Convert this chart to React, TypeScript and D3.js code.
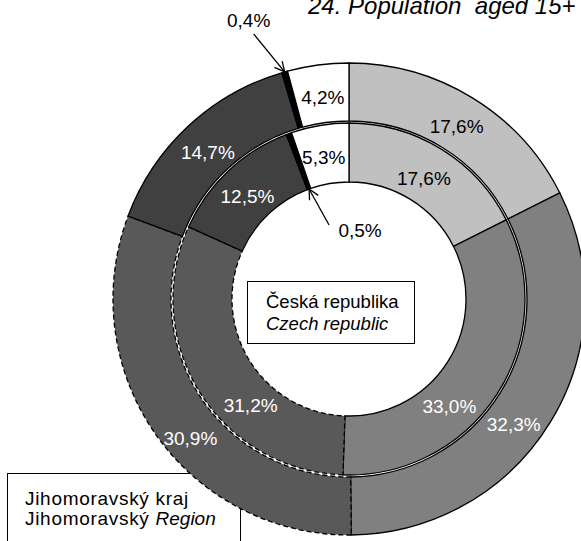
import React, { useEffect, useRef } from 'react';
import * as d3 from 'd3';

// education groups (clockwise from 12 o'clock)
const categories = ['basic', 'secondary', 'secondaryMaturita', 'tertiary', 'none', 'unknown'];
const czValues = [17.6, 33.0, 31.2, 12.5, 0.5, 5.3];   // inner ring - Česká republika
const jmkValues = [17.6, 32.3, 30.9, 14.7, 0.4, 4.2];  // outer ring - Jihomoravský kraj
const fills = ['#c0c0c0', '#808080', '#595959', '#404040', '#000000', '#ffffff'];
const labelColors = ['#000', '#fff', '#fff', '#fff', null, '#000'];
const dashed = [false, false, true, false, false, false];

// label nudges away from the slice centroid (Excel places them a bit differently)
const outerNudge: ([number, number] | null)[] = [[-1, 4], [-12, 18], [11, 21], [0, 5], null, [1, 4]];
const innerNudge: ([number, number] | null)[] = [[-2, 4], [-23, 28], [26, 29], [-1, 4], null, [-1, 3]];

const fmt = (v: number) => v.toFixed(1).replace('.', ',') + '%';

const App: React.FC = () => {
  const ref = useRef<SVGSVGElement>(null);

  useEffect(() => {
    if (!ref.current) return;
    const svg = d3.select(ref.current);
    svg.selectAll('*').remove();

    const width = 581;
    const height = 541;
    const cx = 349;
    const cy = 299;
    const r0 = 117, r1 = 176, r2 = 178, r3 = 236;
    const font = 'Arial, "Liberation Sans", sans-serif';
    const labelSize = '19px';

    const defs = svg.append('defs');
    defs.append('marker')
      .attr('id', 'arrow')
      .attr('viewBox', '0 0 12 12')
      .attr('refX', 11).attr('refY', 6)
      .attr('markerWidth', 12).attr('markerHeight', 12)
      .attr('markerUnits', 'userSpaceOnUse')
      .attr('orient', 'auto')
      .append('path')
      .attr('d', 'M1,1 L11,6 L1,11')
      .attr('fill', 'none')
      .attr('stroke', '#000')
      .attr('stroke-width', 1.3);

    // title (runs off the top and right edge as in the original)
    svg.append('text')
      .attr('x', 308).attr('y', 14)
      .style('font-family', font)
      .style('font-style', 'italic')
      .style('font-size', '24px')
      .style('white-space', 'pre')
      .text('24. Population  aged 15+');

    // legend box for the outer ring (no fill, ring shows through)
    const jb = svg.append('g');
    jb.append('rect')
      .attr('x', 7.5).attr('y', 473.5).attr('width', 233).attr('height', 90)
      .attr('fill', 'none').attr('stroke', '#000').attr('stroke-width', 1);

    const pie = d3.pie<number>().sort(null).value(d => d);
    const g = svg.append('g').attr('transform', `translate(${cx},${cy})`);

    const drawRing = (values: number[], inner: number, outer: number, nudges: ([number, number] | null)[]) => {
      const arcs = pie(values);
      const arc = d3.arc<d3.PieArcDatum<number>>().innerRadius(inner).outerRadius(outer);
      const ring = g.append('g');
      ring.selectAll('path')
        .data(arcs)
        .join('path')
        .attr('d', arc)
        .attr('fill', (d, i) => fills[i])
        .attr('stroke', '#000')
        .attr('stroke-width', 1.3)
        .attr('stroke-dasharray', (d, i) => dashed[i] ? '5,3' : null);

      ring.selectAll('text')
        .data(arcs.filter((d, i) => nudges[i] !== null))
        .join('text')
        .attr('transform', d => {
          const [x, y] = arc.centroid(d);
          const n = nudges[d.index] as [number, number];
          return `translate(${x + n[0]},${y + n[1]})`;
        })
        .attr('text-anchor', 'middle')
        .attr('dy', '0.35em')
        .attr('fill', d => labelColors[d.index] as string)
        .style('font-family', font)
        .style('font-size', labelSize)
        .text(d => fmt(d.data));
      return arcs;
    };

    const outerArcs = drawRing(jmkValues, r2, r3, outerNudge);
    const innerArcs = drawRing(czValues, r0, r1, innerNudge);

    // tiny slices get an arrow callout
    const edgePoint = (d: d3.PieArcDatum<number>, r: number) => {
      const a = (d.startAngle + d.endAngle) / 2;
      return [r * Math.sin(a), -r * Math.cos(a)];
    };
    const callout = (d: d3.PieArcDatum<number>, r: number, from: [number, number], lab: [number, number]) => {
      const [tx, ty] = edgePoint(d, r);
      g.append('line')
        .attr('x1', tx + from[0]).attr('y1', ty + from[1])
        .attr('x2', tx).attr('y2', ty)
        .attr('stroke', '#000').attr('stroke-width', 1.3)
        .attr('marker-end', 'url(#arrow)');
      g.append('text')
        .attr('x', tx + lab[0]).attr('y', ty + lab[1])
        .attr('dy', '0.35em')
        .attr('text-anchor', 'middle')
        .style('font-family', font)
        .style('font-size', labelSize)
        .text(fmt(d.data));
    };
    callout(outerArcs[4], r3, [-31, -38], [-36, -52]);
    callout(innerArcs[4], r0, [20, 36], [51, 41]);

    // centre box for the inner ring
    const cb = svg.append('g');
    cb.append('rect')
      .attr('x', 247.5).attr('y', 281.5).attr('width', 167).attr('height', 62)
      .attr('fill', '#fff').attr('stroke', '#000').attr('stroke-width', 1);
    cb.append('text')
      .attr('x', 266).attr('y', 308)
      .style('font-family', font).style('font-size', '18.5px')
      .text('Česká republika');
    cb.append('text')
      .attr('x', 266).attr('y', 330)
      .style('font-family', font).style('font-size', '18.5px').style('font-style', 'italic')
      .text('Czech republic');

    const jt = jb.append('text')
      .style('font-family', font).style('font-size', '19px').style('letter-spacing', '0.7px');
    jt.append('tspan').attr('x', 25).attr('y', 505).text('Jihomoravský kraj');
    const jt2 = jb.append('text')
      .style('font-family', font).style('font-size', '19px').style('letter-spacing', '0.7px');
    jt2.append('tspan').attr('x', 25).attr('y', 525).text('Jihomoravský ');
    jt2.append('tspan').style('font-style', 'italic').style('letter-spacing', '0px').text('Region');

    svg.attr('width', width).attr('height', height);
  }, []);

  return (
    <svg
      ref={ref}
      width={581}
      height={541}
      style={{ position: 'absolute', left: 0, top: 0, background: '#fff', overflow: 'hidden' }}
    ></svg>
  );
};

export default App;
